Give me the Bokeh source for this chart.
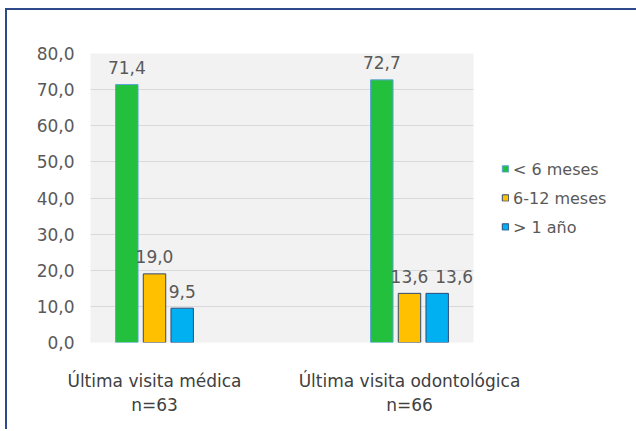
from bokeh.plotting import figure
from bokeh.layouts import column
from bokeh.models import Range1d, FixedTicker, Legend, LegendItem, ColumnDataSource
from bokeh.core.properties import value
from bokeh.embed import file_html
from bokeh.resources import INLINE

# ---- data ----
categories = ["Última visita médica\nn=63", "Última visita odontológica\nn=66"]
series = ["< 6 meses", "6-12 meses", "> 1 año"]
values = {
    "< 6 meses": [71.4, 72.7],
    "6-12 meses": [19.0, 13.6],
    "> 1 año": [9.5, 13.6],
}
y_ticks = [0, 10, 20, 30, 40, 50, 60, 70, 80]
y_tick_labels = ["0,0", "10,0", "20,0", "30,0", "40,0", "50,0", "60,0", "70,0", "80,0"]

# ---- styles ----
fills = ["#22C03C", "#FFC000", "#00B0F0"]
outlines = ["#5BA3D9", "#2F4A7A", "#2F4A7A"]
dodge = [-0.1086, 0.0, 0.1086]
bar_w = 0.088
label_nudge_x = [[0, 0], [0, 0], [0, 17]]  # pixel nudges of data labels
FONT = "DejaVu Sans"

p = figure(frame_width=383, frame_height=289, output_backend="svg", toolbar_location=None,
           x_range=Range1d(-0.251, 1.251), y_range=Range1d(0, 80),
           min_border_left=83, min_border_right=163, min_border_top=43,
           min_border_bottom=87)
p.background_fill_color = "#F2F2F2"
p.border_fill_color = "white"
p.outline_line_color = None

items = []
for i, s in enumerate(series):
    xs = [g + dodge[i] for g in range(len(categories))]
    src = ColumnDataSource(dict(
        x=xs, top=values[s],
        lab=[f"{v:.1f}".replace(".", ",") for v in values[s]],
        dx=label_nudge_x[i]))
    r = p.vbar(x="x", top="top", width=bar_w, bottom=0, source=src,
               fill_color=fills[i], line_color=outlines[i], line_width=1)
    p.text(x="x", y="top", text="lab", source=src, x_offset="dx", y_offset=-17,
           text_align="center", text_baseline="middle",
           text_font=value(FONT), text_font_size="17px", text_color="#595959")
    items.append(LegendItem(label=s, renderers=[r]))

legend = Legend(items=items, location="center_left", glyph_width=8, glyph_height=8,
                label_standoff=4, spacing=10, padding=0, margin=28,
                label_text_font=FONT, label_text_font_size="16px",
                label_text_color="#595959", border_line_color=None,
                background_fill_alpha=0)
p.add_layout(legend, "right")

# y axis
p.yaxis.ticker = FixedTicker(ticks=y_ticks)
p.yaxis.major_label_overrides = {t: l for t, l in zip(y_ticks, y_tick_labels)}
p.yaxis.axis_line_color = None
p.yaxis.major_tick_line_color = None
p.yaxis.minor_tick_line_color = None
p.yaxis.major_tick_out = 0
p.yaxis.major_tick_in = 0
p.yaxis.major_label_standoff = 16
p.yaxis.major_label_text_font = FONT
p.yaxis.major_label_text_font_size = "17px"
p.yaxis.major_label_text_color = "#595959"

# x axis
p.xaxis.ticker = FixedTicker(ticks=list(range(len(categories))))
p.xaxis.major_label_overrides = {i: c for i, c in enumerate(categories)}
p.xaxis.axis_line_color = None
p.xaxis.major_tick_line_color = None
p.xaxis.minor_tick_line_color = None
p.xaxis.major_tick_out = 0
p.xaxis.major_tick_in = 0
p.xaxis.major_label_standoff = 28
p.xaxis.major_label_text_font = FONT
p.xaxis.major_label_text_font_size = "17px"
p.xaxis.major_label_text_color = "#404040"

p.xgrid.grid_line_color = None
p.ygrid.ticker = FixedTicker(ticks=y_ticks)
p.ygrid.grid_line_color = "#D9D9D9"

layout = column(p, styles={"border-left": "2px solid #2F4A8A",
                           "border-top": "2px solid #2F4A8A",
                           "margin-left": "5px", "margin-top": "8px"})

open("out.html", "w").write(file_html(layout, INLINE))
